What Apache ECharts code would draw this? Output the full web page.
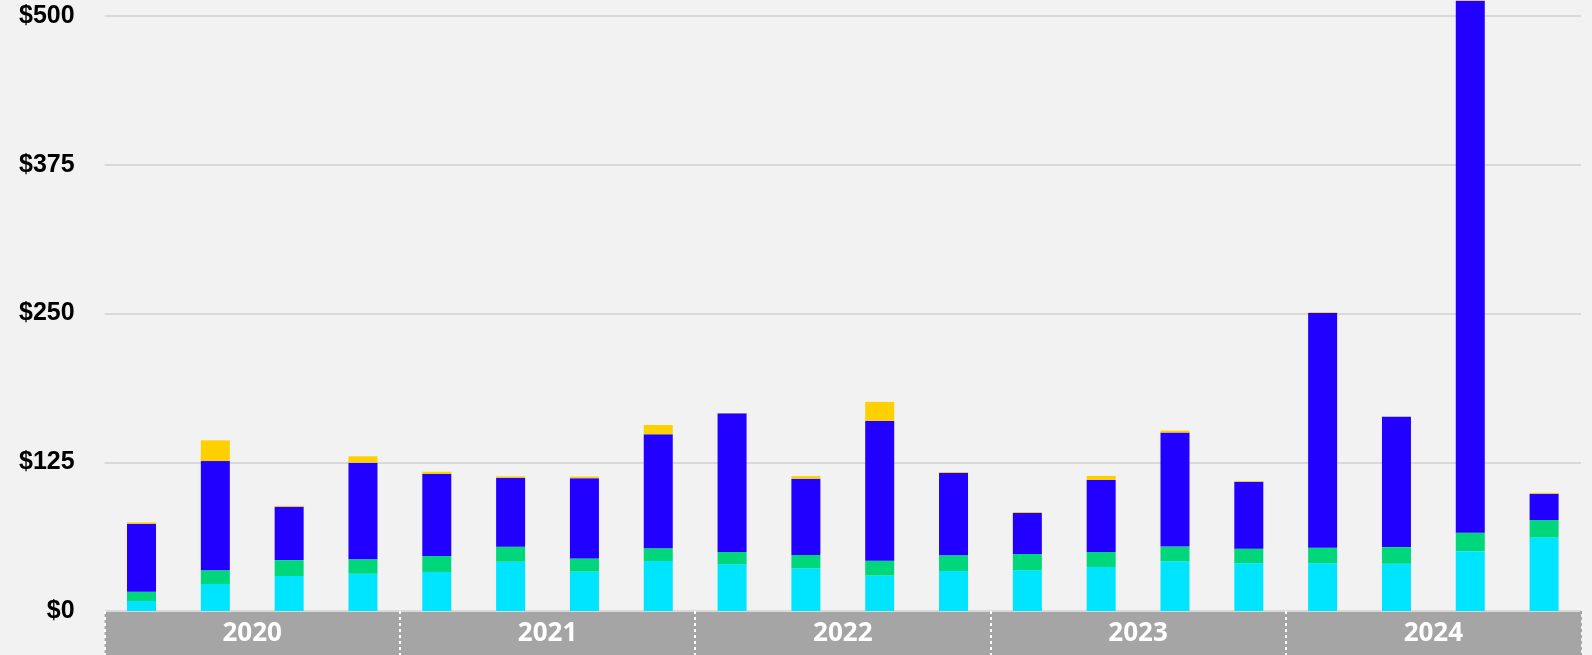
<!DOCTYPE html>
<html>
<head>
<meta charset="utf-8">
<script src="https://cdn.jsdelivr.net/npm/echarts@6/dist/echarts.min.js"></script>
<style>
  html, body { margin: 0; padding: 0; background: #F2F2F2; }
  #chart { width: 1592px; height: 655px; }
</style>
</head>
<body>
<div id="chart"></div>
<script>
// quarters, 2020 Q1 .. 2024 Q4
const quarters = [
  'Q1 2020', 'Q2 2020', 'Q3 2020', 'Q4 2020',
  'Q1 2021', 'Q2 2021', 'Q3 2021', 'Q4 2021',
  'Q1 2022', 'Q2 2022', 'Q3 2022', 'Q4 2022',
  'Q1 2023', 'Q2 2023', 'Q3 2023', 'Q4 2023',
  'Q1 2024', 'Q2 2024', 'Q3 2024', 'Q4 2024'
];
const years = ['2020', '2021', '2022', '2023', '2024'];

// stacked from the bottom up
const cyanVals   = [8.4, 22.7, 29.4, 31.3, 32.8, 41.4, 33.1, 42.0, 39.2, 35.9, 29.7, 33.6, 34.2, 37.0, 41.8, 40.1, 40.1, 39.7, 50.3, 61.9];
const greenVals  = [7.8, 11.5, 13.4, 12.1, 13.4, 12.6, 11.1, 10.7, 10.4, 11.2, 12.6, 13.2, 13.7, 12.6, 12.3, 12.3, 13.0, 14.0, 15.5, 14.5];
const blueVals   = [57.1, 91.8, 44.8, 81.2, 68.9, 58.0, 67.4, 95.8, 116.5, 64.1, 117.4, 69.2, 34.5, 60.5, 95.8, 56.3, 197.3, 109.6, 447.0, 22.1];
const yellowVals = [1.2, 17.4, 0.8, 5.4, 1.9, 1.2, 1.3, 7.8, 0.3, 2.2, 16.0, 0.8, 0.8, 3.4, 1.7, 0.6, 0.7, 0, 0.5, 0.8];

const yTicks = { min: 0, max: 500, interval: 125 };

const chart = echarts.init(document.getElementById('chart'));

function stackSeries(name, data, color) {
  return {
    name: name,
    type: 'bar',
    stack: 'total',
    data: data,
    barWidth: 29,
    clip: false,
    itemStyle: { color: color },
    xAxisIndex: 0,
    yAxisIndex: 0
  };
}

// white dotted separators, none on the right edge
const sepColors = years.map(() => '#FFFFFF').concat(['#A5A5A5']);

const option = {
  backgroundColor: '#F2F2F2',
  animation: false,
  grid: [
    { left: 104.6, right: 11, top: 16, bottom: 44 },
    { left: 104.6, right: 11, top: 611, height: 44, show: true, backgroundColor: '#A5A5A5', borderWidth: 0 }
  ],
  xAxis: [
    {
      type: 'category',
      gridIndex: 0,
      data: quarters,
      axisLine: { show: false },
      axisTick: { show: false },
      axisLabel: { show: false }
    },
    {
      type: 'category',
      gridIndex: 1,
      position: 'top',
      data: years,
      axisLine: { show: false },
      axisTick: { show: false },
      axisLabel: {
        inside: true,
        margin: 23,
        verticalAlign: 'middle',
        color: '#FFFFFF',
        fontFamily: 'Open Sans',
        fontWeight: 'bold',
        fontSize: 26
      },
      splitLine: {
        show: true,
        lineStyle: { color: sepColors, width: 2, type: [3, 3] }
      }
    }
  ],
  yAxis: [
    {
      type: 'value',
      gridIndex: 0,
      min: yTicks.min,
      max: yTicks.max,
      interval: yTicks.interval,
      axisLine: { show: false },
      axisTick: { show: false },
      axisLabel: {
        margin: 30,
        color: '#000000',
        fontFamily: 'Liberation Sans',
        fontWeight: 'bold',
        fontSize: 25,
        formatter: v => '$' + v
      },
      splitLine: { lineStyle: { color: '#D9D9D9', width: 2 } }
    },
    {
      type: 'value',
      gridIndex: 1,
      show: false
    }
  ],
  series: [
    stackSeries('Cyan', cyanVals, '#00E5FF'),
    stackSeries('Green', greenVals, '#00D67A'),
    stackSeries('Blue', blueVals, '#2200FF'),
    stackSeries('Yellow', yellowVals, '#FFD000')
  ]
};

chart.setOption(option);
</script>
</body>
</html>
